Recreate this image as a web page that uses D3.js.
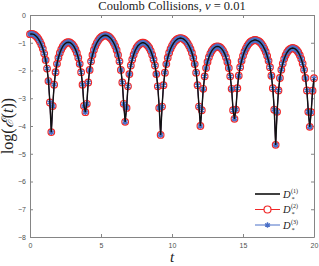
<!DOCTYPE html>
<html>
<head>
<meta charset="utf-8">
<script src="https://cdn.jsdelivr.net/npm/d3@7"></script>
<style>
  body { margin: 0; background: #fff; }
  svg { display: block; }
</style>
</head>
<body>
<svg id="chart"></svg>
<script>
// sampled log energy, t = 0 .. 20 every 0.1
const tStep = 0.1;
const logE = [
  -0.69,-0.68,-0.69,-0.71,-0.75,-0.80,-0.87,-0.96,-1.07,-1.21,-1.39,-1.62,-1.93,-2.38,-3.15,-4.22,
  -3.28,-2.51,-2.06,-1.76,-1.54,-1.37,-1.24,-1.14,-1.07,-1.02,-0.99,-0.98,-0.99,-1.02,-1.07,-1.14,-1.24,-1.37,-1.54,-1.76,-2.06,-2.51,-3.28,-3.50,
  -3.20,-2.43,-1.98,-1.67,-1.44,-1.26,-1.12,-1.01,-0.92,-0.85,-0.80,-0.76,-0.74,-0.73,-0.74,-0.76,-0.80,-0.85,-0.92,-1.01,-1.12,-1.26,-1.44,-1.67,-1.98,-2.43,-3.20,-3.85,
  -3.35,-2.57,-2.13,-1.82,-1.60,-1.43,-1.29,-1.19,-1.11,-1.06,-1.02,-1.00,-1.00,-1.02,-1.06,-1.11,-1.19,-1.29,-1.43,-1.60,-1.82,-2.13,-2.57,-3.35,-4.32,
  -3.30,-2.53,-2.08,-1.77,-1.54,-1.36,-1.22,-1.11,-1.02,-0.95,-0.90,-0.86,-0.84,-0.83,-0.84,-0.86,-0.90,-0.95,-1.02,-1.11,-1.22,-1.36,-1.54,-1.77,-2.08,-2.53,-3.30,-4.00,
  -3.43,-2.66,-2.21,-1.91,-1.69,-1.52,-1.39,-1.29,-1.22,-1.17,-1.14,-1.13,-1.14,-1.17,-1.22,-1.29,-1.39,-1.52,-1.69,-1.91,-2.21,-2.66,-3.43,-3.74,
  -3.41,-2.64,-2.19,-1.88,-1.65,-1.47,-1.32,-1.21,-1.11,-1.04,-0.98,-0.94,-0.92,-0.90,-0.90,-0.92,-0.94,-0.98,-1.04,-1.11,-1.21,-1.32,-1.47,-1.65,-1.88,-2.19,-2.64,-3.41,-4.68,
  -3.49,-2.72,-2.27,-1.97,-1.75,-1.58,-1.45,-1.35,-1.28,-1.23,-1.20,-1.19,-1.20,-1.23,-1.28,-1.35,-1.45,-1.58,-1.75,-1.97,-2.27,-2.72,-3.49,-4.03,
  -3.50,-2.73,-2.28
];
// the three schemes give the same curve
const seriesNames = ["1", "2", "3"];
const seriesValues = [logE, logE, logE];
const xTicks = [0, 5, 10, 15, 20];
const yTicks = [0, -1, -2, -3, -4, -5, -6, -7, -8];

const width = 319, height = 266;
const margin = { top: 15, right: 5, bottom: 29, left: 30 };

const svg = d3.select("#chart")
    .attr("width", width)
    .attr("height", height);

const x = d3.scaleLinear().domain([0, 20]).range([margin.left, width - margin.right]);
const y = d3.scaleLinear().domain([-8, 0]).range([height - margin.bottom, margin.top]);

const axisColor = "#858585";
const labelColor = "#505050";
const serif = "'Liberation Serif', 'DejaVu Serif', serif";

// axes with inward ticks, box on
function styleAxis(g) {
    g.select(".domain").attr("stroke", axisColor);
    g.selectAll(".tick line").attr("stroke", axisColor);
    g.selectAll(".tick text").attr("fill", labelColor)
        .attr("font-family", "'Liberation Sans', Arial, sans-serif")
        .attr("font-size", 7);
}

svg.append("g")
    .attr("transform", `translate(0,${y(-8)})`)
    .call(d3.axisBottom(x).tickValues(xTicks).tickSize(-3).tickSizeOuter(0).tickPadding(6))
    .call(styleAxis);

svg.append("g")
    .attr("transform", `translate(${x(0)},0)`)
    .call(d3.axisLeft(y).tickValues(yTicks).tickSize(-3).tickSizeOuter(0).tickPadding(4))
    .call(styleAxis);

svg.append("g")
    .attr("transform", `translate(0,${y(0)})`)
    .call(d3.axisTop(x).tickValues(xTicks).tickSize(-3).tickSizeOuter(0).tickFormat(""))
    .call(styleAxis);

svg.append("g")
    .attr("transform", `translate(${x(20)},0)`)
    .call(d3.axisRight(y).tickValues(yTicks).tickSize(-3).tickSizeOuter(0).tickFormat(""))
    .call(styleAxis);

const line = d3.line()
    .x((d, i) => x(i * tStep))
    .y(d => y(d));

const red = "#f02828";
const blue = "#4a70c8";

// D2: red circles
svg.append("path")
    .attr("d", line(seriesValues[1]))
    .attr("fill", "none").attr("stroke", red).attr("stroke-width", 1);
svg.append("g").selectAll("circle")
    .data(seriesValues[1])
    .join("circle")
    .attr("cx", (d, i) => x(i * tStep))
    .attr("cy", d => y(d))
    .attr("r", 3.3)
    .attr("fill", "none")
    .attr("stroke", red)
    .attr("stroke-width", 1.2);

// D3: blue asterisks
const star = d3.symbol().type(d3.symbolAsterisk).size(22);
svg.append("path")
    .attr("d", line(seriesValues[2]))
    .attr("fill", "none").attr("stroke", blue).attr("stroke-width", 1);
svg.append("g").selectAll("path")
    .data(seriesValues[2])
    .join("path")
    .attr("d", star)
    .attr("transform", (d, i) => `translate(${x(i * tStep)},${y(d)})`)
    .attr("fill", "none")
    .attr("stroke", blue)
    .attr("stroke-width", 1.6);

// D1: black line on top
svg.append("path")
    .attr("d", line(seriesValues[0]))
    .attr("fill", "none").attr("stroke", "#111").attr("stroke-width", 1.4);

// title
const title = svg.append("text")
    .attr("x", x(10)).attr("y", 10)
    .attr("text-anchor", "middle")
    .attr("font-family", serif)
    .attr("font-size", 12.5)
    .attr("fill", "#222");
title.append("tspan").text("Coulomb Collisions, ");
title.append("tspan").attr("font-style", "italic").text("ν");
title.append("tspan").text(" = 0.01");

// axis labels
svg.append("text")
    .attr("x", x(10)).attr("y", 262)
    .attr("text-anchor", "middle")
    .attr("font-family", serif)
    .attr("font-style", "italic")
    .attr("font-size", 15)
    .attr("fill", "#222")
    .text("t");

const ylab = svg.append("text")
    .attr("transform", `translate(13,${y(-4)}) rotate(-90)`)
    .attr("text-anchor", "middle")
    .attr("font-family", serif)
    .attr("font-size", 16)
    .attr("fill", "#222");
ylab.append("tspan").text("log(");
ylab.append("tspan").attr("font-style", "italic").text("ℰ");
ylab.append("tspan").text("(");
ylab.append("tspan").attr("font-style", "italic").text("t");
ylab.append("tspan").text("))");

// legend
const legendColors = ["#111", red, blue];
const legend = svg.append("g");
seriesNames.forEach((name, i) => {
    const ly = 194 + i * 15.5;
    const g = legend.append("g");
    g.append("line")
        .attr("x1", 255).attr("x2", 280)
        .attr("y1", ly).attr("y2", ly)
        .attr("stroke", legendColors[i])
        .attr("stroke-width", i === 0 ? 1.6 : 1);
    if (i === 1) {
        g.append("circle").attr("cx", 267.5).attr("cy", ly).attr("r", 3.5)
            .attr("fill", "#fff").attr("stroke", red).attr("stroke-width", 1.2);
    }
    if (i === 2) {
        g.append("path").attr("d", star)
            .attr("transform", `translate(267.5,${ly})`)
            .attr("fill", "none").attr("stroke", blue).attr("stroke-width", 1.4);
    }
    g.append("text")
        .attr("x", 283).attr("y", ly + 3.5)
        .attr("font-family", serif)
        .attr("font-style", "italic")
        .attr("font-size", 10.5)
        .attr("fill", "#222")
        .text("D");
    g.append("text")
        .attr("x", 291).attr("y", ly - 1.5)
        .attr("font-family", serif)
        .attr("font-size", 6)
        .attr("fill", "#222")
        .text(`(${name})`);
    g.append("text")
        .attr("x", 291.5).attr("y", ly + 6.5)
        .attr("font-family", serif)
        .attr("font-size", 6.5)
        .attr("fill", "#222")
        .text("*");
});
</script>
</body>
</html>
